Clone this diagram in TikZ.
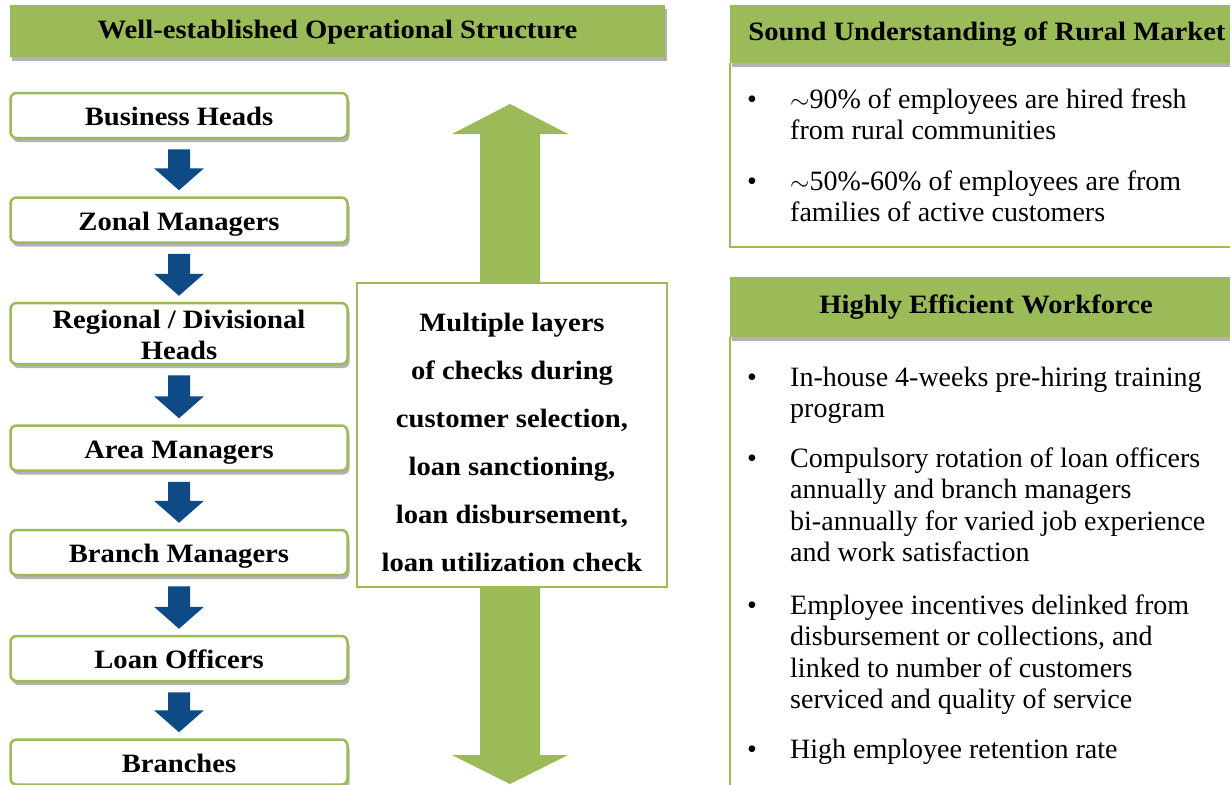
\documentclass[tikz,border=0pt]{standalone}
\usepackage{fontspec}
\setmainfont{Liberation Serif}[BoldFeatures={FakeStretch=1.08}]
\usetikzlibrary{shadows,calc}
\definecolor{lgreen}{HTML}{9BBB59}
\definecolor{dblue}{HTML}{0D4A86}
\tikzset{
  shd/.style={drop shadow={shadow xshift=2pt,shadow yshift=-4pt,opacity=.3,fill=black}},
  hdr/.style={fill=lgreen, draw=none, shd, inner sep=0, font=\fontsize{26.5}{30}\selectfont\bfseries},
  level/.style={draw=lgreen, line width=2.5pt, rounded corners=6pt, fill=white, shd,
    minimum width=337pt, minimum height=45pt, inner sep=0, align=center,
    text height=22pt, text depth=2pt,
    font=\fontsize{26.5}{31}\selectfont\bfseries},
  darr/.style={fill=dblue},
  garr/.style={fill=lgreen},
  midbox/.style={draw=lgreen, line width=1.5pt, fill=white, minimum width=310pt, minimum height=304pt, inner sep=0},
  midtxt/.style={inner sep=0, align=center, font=\fontsize{26.5}{48}\selectfont\bfseries},
  bul/.style={anchor=base, inner sep=0, font=\fontsize{28}{31.5}\selectfont},
  btext/.style={anchor=base west, inner sep=0, font=\fontsize{28}{31.5}\selectfont},
  frame/.style={draw=lgreen, line width=2.5pt}
}
\newcommand\levelarrow[2]{%
  \fill[darr] let \p1=(#1.south), \p2=(#2.north) in
    (\x1-11pt,\y1-10pt) -- (\x1+11pt,\y1-10pt) -- (\x1+11pt,\y2+28pt) --
    (\x1+25pt,\y2+28pt) -- (\x1,\y2+6pt) -- (\x1-25pt,\y2+28pt) --
    (\x1-11pt,\y2+28pt) -- cycle;}
\newcommand\blines[1]{\begin{tabular}[t]{@{}l@{}}#1\end{tabular}}
\begin{document}
\begin{tikzpicture}[x=1pt,y=-1pt]
\path[use as bounding box] (0,0) rectangle (1230,784);

% left title
\node[hdr, minimum width=655pt, minimum height=52pt, text height=20pt, text depth=5pt] (title) at (337.5,31) {Well-established Operational Structure};

% levels
\node[level] (l1) at (179,115.5) {Business Heads};
\node[level] (l2) at (179,220) {Zonal Managers};
\node[level, minimum height=61pt, text height=20pt, text depth=30pt] (l3) at (179,333.5) {\begin{tabular}[t]{@{}c@{}}Regional / Divisional\\Heads\end{tabular}};
\node[level] (l4) at (179,448) {Area Managers};
\node[level] (l5) at (179,552.5) {Branch Managers};
\node[level] (l6) at (179,658.5) {Loan Officers};
\node[level] (l7) at (179,762) {Branches};
\levelarrow{l1}{l2}
\levelarrow{l2}{l3}
\levelarrow{l3}{l4}
\levelarrow{l4}{l5}
\levelarrow{l5}{l6}
\levelarrow{l6}{l7}

% green double arrow
\fill[garr] (480,134) -- (452,134) -- (510,104) -- (568,134) -- (540,134) --
  (540,755) -- (568,755) -- (510,784) -- (452,755) -- (480,755) -- cycle;
\node[midbox] (mid) at (512,435) {};
\node[midtxt] (midt) at (512,442) {Multiple layers\\of checks during\\customer selection,\\loan sanctioning,\\loan disbursement,\\loan utilization check};

% right top
\node[hdr, minimum width=514pt, minimum height=58pt] (h1) at (987,34) {\raisebox{-1.5pt}{Sound Understanding of Rural Market}};
\draw[frame] (h1.south west) -- ++(0,184) -- ++(520,0);
\node[bul] (b1) at (752,108) {•};
\node[btext] (t1) at (790,108) {\blines{$\sim$90\% of employees are hired fresh\\from rural communities}};
\node[bul] (b2) at (752,190) {•};
\node[btext] (t2) at (790,190) {\blines{$\sim$50\%-60\% of employees are from\\families of active customers}};

% right bottom
\node[hdr, minimum width=512pt, minimum height=60pt] (h2) at (986,307) {\raisebox{-1pt}{Highly Efficient Workforce}};
\draw[frame] (h2.south west) -- ++(0,460);
\node[bul] (b3) at (752,386) {•};
\node[btext] (t3) at (790,386) {\blines{In-house 4-weeks pre-hiring training\\program}};
\node[bul] (b4) at (752,467) {•};
\node[btext] (t4) at (790,467) {\blines{Compulsory rotation of loan officers\\annually and branch managers\\bi-annually for varied job experience\\and work satisfaction}};
\node[bul] (b5) at (752,614) {•};
\node[btext] (t5) at (790,614) {\blines{Employee incentives delinked from\\disbursement or collections, and\\linked to number of customers\\serviced and quality of service}};
\node[bul] (b6) at (752,758) {•};
\node[btext] (t6) at (790,758) {\blines{High employee retention rate}};
\end{tikzpicture}
\end{document}
